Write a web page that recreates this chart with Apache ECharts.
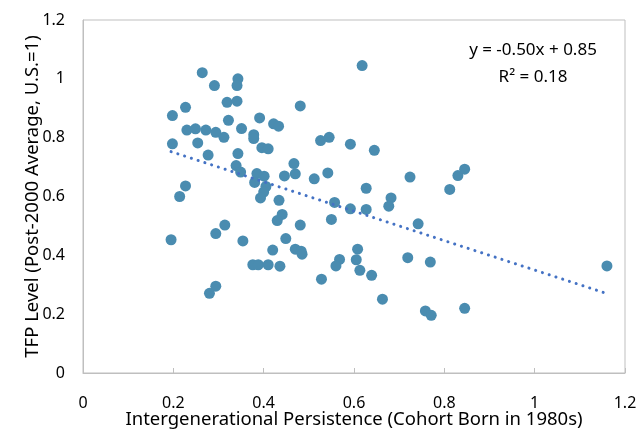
<!DOCTYPE html>
<html>
<head>
<meta charset="utf-8">
<script src="https://cdn.jsdelivr.net/npm/echarts@6/dist/echarts.min.js"></script>
<style>
  html, body { margin: 0; padding: 0; background: #fff; }
  #scatter-chart { width: 639px; height: 430px; }
</style>
</head>
<body>
<div id="scatter-chart"></div>
<script>
// persistence (x) and TFP level (y)
var persistence = [
  0.264, 0.343, 0.291, 0.341, 0.319, 0.341, 0.481, 0.227, 0.198, 0.322,
  0.391, 0.422, 0.433, 0.230, 0.249, 0.272, 0.294, 0.312, 0.351, 0.378,
  0.378, 0.198, 0.254, 0.396, 0.410, 0.277, 0.343, 0.467, 0.339, 0.349,
  0.385, 0.401, 0.446, 0.470, 0.227, 0.214, 0.380, 0.405, 0.400, 0.393,
  0.434, 0.441, 0.430, 0.481, 0.314, 0.294, 0.195, 0.354, 0.449, 0.420,
  0.470, 0.483, 0.485, 0.376, 0.388, 0.410, 0.436, 0.294, 0.280, 0.618,
  0.526, 0.545, 0.592, 0.645, 0.512, 0.542, 0.724, 0.830, 0.845, 0.627,
  0.682, 0.677, 0.812, 0.557, 0.592, 0.627, 0.550, 0.742, 0.608, 0.568,
  0.560, 0.605, 0.613, 0.639, 0.528, 0.719, 0.769, 0.663, 0.758, 0.771,
  0.845, 1.160
];
var tfpLevel = [
  1.021, 1.000, 0.977, 0.977, 0.920, 0.924, 0.908, 0.903, 0.875, 0.859,
  0.867, 0.847, 0.839, 0.826, 0.830, 0.826, 0.818, 0.801, 0.831, 0.810,
  0.797, 0.779, 0.782, 0.766, 0.762, 0.741, 0.746, 0.712, 0.705, 0.683,
  0.678, 0.669, 0.670, 0.677, 0.636, 0.600, 0.648, 0.634, 0.615, 0.595,
  0.587, 0.539, 0.518, 0.503, 0.503, 0.474, 0.453, 0.449, 0.457, 0.418,
  0.421, 0.414, 0.404, 0.368, 0.368, 0.368, 0.363, 0.295, 0.271, 1.045,
  0.790, 0.801, 0.778, 0.757, 0.660, 0.680, 0.666, 0.671, 0.693, 0.628,
  0.595, 0.567, 0.624, 0.580, 0.558, 0.556, 0.522, 0.507, 0.421, 0.386,
  0.364, 0.385, 0.349, 0.332, 0.319, 0.392, 0.377, 0.251, 0.211, 0.196,
  0.220, 0.364
];
// fitted trend as printed on the chart
var slope = -0.50;
var intercept = 0.85;
var equationText = ["y = -0.50x + 0.85", "R\u00b2 = 0.18"];

var points = persistence.map(function (x, i) { return [x, tfpLevel[i]]; });
var xMin = Math.min.apply(null, persistence);
var xMax = Math.max.apply(null, persistence);
var trend = [[xMin, slope * xMin + intercept], [xMax, slope * xMax + intercept]];

var font = "'Noto Sans', 'Open Sans', sans-serif";
var myChart = echarts.init(document.getElementById("scatter-chart"));
myChart.setOption({
  animation: false,
  textStyle: { fontFamily: font },
  grid: {
    left: 83, right: 14, top: 20, bottom: 57,
    outerBoundsMode: "none",
    show: true, borderColor: "#bfbfbf", borderWidth: 1
  },
  xAxis: {
    type: "value", min: 0, max: 1.2, interval: 0.2,
    name: "Intergenerational Persistence (Cohort Born in 1980s)",
    nameLocation: "middle", nameGap: 37, nameMoveOverlap: false,
    nameTextStyle: { fontSize: 18.5, color: "#000", fontFamily: font },
    axisLine: { show: true, lineStyle: { color: "#bfbfbf" } },
    axisTick: { show: true, inside: true, length: 5, lineStyle: { color: "#bfbfbf" } },
    axisLabel: { fontSize: 16, color: "#000", margin: 22, fontFamily: font,
      formatter: function (v) { return +v.toFixed(1) + ""; } },
    splitLine: { show: false }
  },
  yAxis: {
    type: "value", min: 0, max: 1.2, interval: 0.2,
    name: "TFP Level (Post-2000 Average, U.S.=1)",
    nameLocation: "middle", nameGap: 41, nameMoveOverlap: false,
    nameTextStyle: { fontSize: 18.5, color: "#000", fontFamily: font },
    axisLine: { show: true, lineStyle: { color: "#bfbfbf" } },
    axisTick: { show: false },
    axisLabel: { fontSize: 16, color: "#000", margin: 18, fontFamily: font,
      formatter: function (v) { return +v.toFixed(1) + ""; } },
    splitLine: { show: false }
  },
  series: [
    {
      type: "scatter",
      data: points,
      symbolSize: 11,
      itemStyle: { color: "#4a8cb0", opacity: 1 },
      z: 2
    },
    {
      type: "line",
      data: trend,
      symbol: "none",
      lineStyle: { color: "#4472c4", width: 3, type: [0.1, 7], cap: "round" },
      z: 3
    }
  ],
  graphic: [
    { type: "text", x: 533, y: 50, style: { text: equationText[0], fontSize: 17, fill: "#000", fontFamily: font, align: "center", verticalAlign: "middle" } },
    { type: "text", x: 533, y: 77, style: { text: equationText[1], fontSize: 17, fill: "#000", fontFamily: font, align: "center", verticalAlign: "middle" } }
  ]
});
</script>
</body>
</html>
